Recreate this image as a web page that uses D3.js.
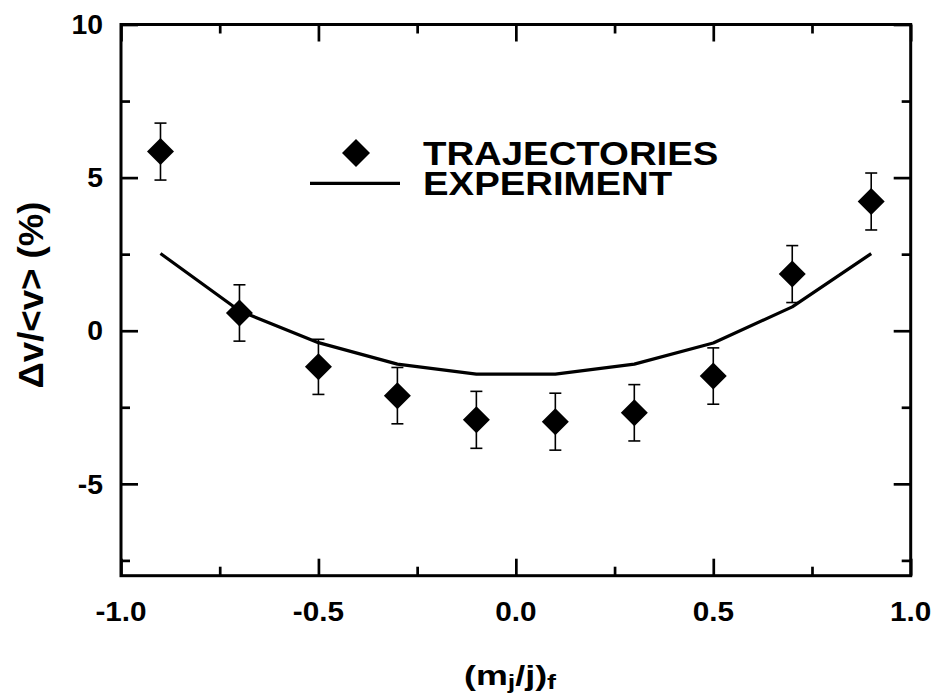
<!DOCTYPE html>
<html><head><meta charset="utf-8">
<script src="https://cdn.jsdelivr.net/npm/d3@7"></script>
<style>body{margin:0;background:#fff}svg{display:block}text{font-family:"Liberation Sans",Arial,sans-serif;font-weight:bold;fill:#000}</style>
</head><body><svg id="c" width="936" height="694"></svg>
<script>
const xs = [-0.9,-0.7,-0.5,-0.3,-0.1,0.1,0.3,0.5,0.7,0.9];
const trajectories = [5.85,0.58,-1.18,-2.12,-2.91,-2.97,-2.68,-1.48,1.85,4.22];
const errors = [0.93,0.92,0.9,0.92,0.93,0.93,0.92,0.92,0.93,0.93];
const experiment = [2.52,0.65,-0.39,-1.09,-1.42,-1.42,-1.09,-0.40,0.78,2.52];
const xTicks = [-1.0,-0.5,0.0,0.5,1.0];
const xMinor = [-0.75,-0.25,0.25,0.75];
const yTicks = [-5,0,5,10];
const yMinor = [-7.5,-2.5,2.5,7.5];

const svg = d3.select("#c");
const L=121,R=910.7,T=24.5,B=575.7;
const x = d3.scaleLinear().domain([-1,1]).range([L,R]);
const y = d3.scaleLinear().domain([-8,10]).range([B,T]);
const fmt = f => v => f(v).replace("\u2212","-");

function ticks(axisFn, scale, vals, len, tf){
  const g = svg.append("g").attr("transform",tf)
    .call(axisFn(scale).tickValues(vals).tickSize(len).tickFormat(""));
  g.select(".domain").remove();
  g.selectAll("line").attr("stroke","#000").attr("stroke-width",2.7);
}
ticks(d3.axisBottom,x,xTicks,-17,`translate(0,${B})`);
ticks(d3.axisBottom,x,xMinor,-9,`translate(0,${B})`);
ticks(d3.axisTop,x,xTicks,-17,`translate(0,${T})`);
ticks(d3.axisTop,x,xMinor,-9,`translate(0,${T})`);
ticks(d3.axisLeft,y,yTicks,-17,`translate(${L},0)`);
ticks(d3.axisLeft,y,yMinor,-9,`translate(${L},0)`);
ticks(d3.axisRight,y,yTicks,-17,`translate(${R},0)`);
ticks(d3.axisRight,y,yMinor,-9,`translate(${R},0)`);
svg.append("rect").attr("x",L).attr("y",T).attr("width",R-L).attr("height",B-T)
  .attr("fill","none").attr("stroke","#000").attr("stroke-width",3);

// tick labels
const fx = fmt(d3.format(".1f")), fy = fmt(d3.format("d"));
xTicks.forEach(v=>{
  svg.append("text").attr("transform",`translate(${x(v)},621) scale(1.1,1)`)
    .attr("text-anchor","middle").attr("font-size",27).text(fx(v));
});
yTicks.forEach(v=>{
  svg.append("text").attr("transform",`translate(103,${y(v)+9.7}) scale(1.05,1)`)
    .attr("text-anchor","end").attr("font-size",27).text(fy(v));
});

// experiment line
svg.append("path").datum(xs.map((d,i)=>[d,experiment[i]]))
  .attr("d",d3.line().x(d=>x(d[0])).y(d=>y(d[1])))
  .attr("fill","none").attr("stroke","#000").attr("stroke-width",3.2).attr("stroke-linejoin","round");

// error bars
const eb = svg.append("g").attr("stroke","#000").attr("stroke-width",1.6);
xs.forEach((d,i)=>{
  const cx=x(d), y1=y(trajectories[i]+errors[i]), y2=y(trajectories[i]-errors[i]);
  eb.append("line").attr("x1",cx).attr("x2",cx).attr("y1",y1).attr("y2",y2);
  eb.append("line").attr("x1",cx-6).attr("x2",cx+6).attr("y1",y1).attr("y2",y1);
  eb.append("line").attr("x1",cx-6).attr("x2",cx+6).attr("y1",y2).attr("y2",y2);
});
const diamond = s=>`M0,${-s}L${s},0L0,${s}L${-s},0Z`;
svg.append("g").selectAll("path").data(xs).join("path")
  .attr("transform",(d,i)=>`translate(${x(d)},${y(trajectories[i])})`)
  .attr("d",diamond(13.5)).attr("fill","#000");

// legend
svg.append("path").attr("transform","translate(356,153)").attr("d",diamond(14)).attr("fill","#000");
svg.append("line").attr("x1",310).attr("x2",400).attr("y1",183.3).attr("y2",183.3)
  .attr("stroke","#000").attr("stroke-width",3.2);
svg.append("text").attr("transform","translate(423,165) scale(1.18,1)").attr("font-size",32.5).text("TRAJECTORIES");
svg.append("text").attr("transform","translate(423,195) scale(1.18,1)").attr("font-size",32.5).text("EXPERIMENT");

// axis titles
const xt = svg.append("text").attr("transform","translate(510,685) scale(1.28,1)").attr("text-anchor","middle").attr("font-size",28);
xt.append("tspan").text("(m");
xt.append("tspan").attr("font-size",21).attr("dy",4).text("j");
xt.append("tspan").attr("dy",-4).text("/j)");
xt.append("tspan").attr("font-size",21).attr("dy",4).text("f");

svg.append("text").attr("transform","translate(43,295) rotate(-90) scale(1.22,1.14)")
  .attr("text-anchor","middle").attr("font-size",30).text("Δv/<v> (%)");
</script></body></html>
